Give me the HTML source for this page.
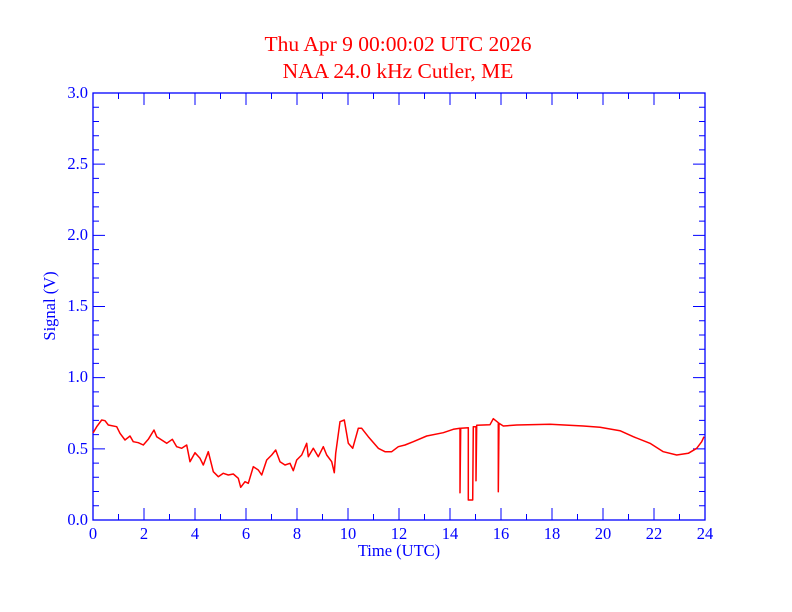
<!DOCTYPE html>
<html><head><meta charset="utf-8"><style>body{margin:0;background:#fff}svg{display:block}</style></head><body>
<svg width="792" height="612" xmlns="http://www.w3.org/2000/svg" font-family="Liberation Serif, serif">
<rect width="792" height="612" fill="#fff"/>
<text x="398" y="51" fill="#f00" font-size="21.5" text-anchor="middle">Thu Apr 9 00:00:02 UTC 2026</text>
<text x="398" y="78" fill="#f00" font-size="21.5" text-anchor="middle">NAA 24.0 kHz Cutler, ME</text>
<rect x="93" y="93" width="612" height="427" stroke="#00f" stroke-width="1.3" fill="none"/>
<path stroke="#00f" stroke-width="1" fill="none" d="
M93 520v-12M118.5 520v-6M144 520v-12M169.5 520v-6M195 520v-12M220.5 520v-6M246 520v-12M271.5 520v-6M297 520v-12M322.5 520v-6M348 520v-12M373.5 520v-6M399 520v-12M424.5 520v-6M450 520v-12M475.5 520v-6M501 520v-12M526.5 520v-6M552 520v-12M577.5 520v-6M603 520v-12M628.5 520v-6M654 520v-12M679.5 520v-6M705 520v-12
M93 93v12M118.5 93v6M144 93v12M169.5 93v6M195 93v12M220.5 93v6M246 93v12M271.5 93v6M297 93v12M322.5 93v6M348 93v12M373.5 93v6M399 93v12M424.5 93v6M450 93v12M475.5 93v6M501 93v12M526.5 93v6M552 93v12M577.5 93v6M603 93v12M628.5 93v6M654 93v12M679.5 93v6M705 93v12
M93 505.77h6M93 491.53h6M93 477.3h6M93 463.07h6M93 448.83h12M93 434.6h6M93 420.37h6M93 406.13h6M93 391.9h6M93 377.67h12M93 363.43h6M93 349.2h6M93 334.97h6M93 320.73h6M93 306.5h12M93 292.27h6M93 278.03h6M93 263.8h6M93 249.57h6M93 235.33h12M93 221.1h6M93 206.87h6M93 192.63h6M93 178.4h6M93 164.17h12M93 149.93h6M93 135.7h6M93 121.47h6M93 107.23h6
M705 505.77h-6M705 491.53h-6M705 477.3h-6M705 463.07h-6M705 448.83h-12M705 434.6h-6M705 420.37h-6M705 406.13h-6M705 391.9h-6M705 377.67h-12M705 363.43h-6M705 349.2h-6M705 334.97h-6M705 320.73h-6M705 306.5h-12M705 292.27h-6M705 278.03h-6M705 263.8h-6M705 249.57h-6M705 235.33h-12M705 221.1h-6M705 206.87h-6M705 192.63h-6M705 178.4h-6M705 164.17h-12M705 149.93h-6M705 135.7h-6M705 121.47h-6M705 107.23h-6"/>
<g fill="#00f" font-size="16.5">
<g text-anchor="middle">
<text x="93" y="539">0</text><text x="144" y="539">2</text><text x="195" y="539">4</text><text x="246" y="539">6</text><text x="297" y="539">8</text><text x="348" y="539">10</text><text x="399" y="539">12</text><text x="450" y="539">14</text><text x="501" y="539">16</text><text x="552" y="539">18</text><text x="603" y="539">20</text><text x="654" y="539">22</text><text x="705" y="539">24</text>
<text x="399" y="556">Time (UTC)</text>
</g>
<g text-anchor="end">
<text x="88" y="525">0.0</text><text x="88" y="454">0.5</text><text x="88" y="382">1.0</text><text x="88" y="311">1.5</text><text x="88" y="240">2.0</text><text x="88" y="169">2.5</text><text x="88" y="98">3.0</text>
</g>
<text transform="translate(55,306) rotate(-90)" text-anchor="middle">Signal (V)</text>
</g>
<polyline fill="none" stroke="#f00" stroke-width="1.5" stroke-linejoin="round" points="
93,433 96.7,426.7 101.7,420 105,420.7 108.3,425 116.7,426.7 120,433.3 125,440 130,436 133.3,441.7 138.3,442.7 143.3,445 148.3,439.3 154,430 156.7,436.7 161.7,440 166.7,443.3 172.3,439.3 176.7,446.7 181.7,448.3 186.7,445 190,461.7 195,452.7 200,458.3 203.3,465 208.3,451.7 213.3,471.7 218.3,476.7 223.3,473.3 228.3,475 233.3,474 238.3,478.3 240.7,487.3 245,481.7 248.3,483.3 253.3,466.7 258.3,470 261.7,475 266.7,460 271.7,455 275.7,450 280,461.7 285,465 290,463.3 293.3,470.7 296.7,460 301.7,455 306.7,443.3 308.3,456.7 313.3,448.3 318.3,456.7 323.3,446.7 326.7,455 331.7,461.7 334.3,472.7 335.7,453.3 340,421.7 344.3,420 348.3,443.3 352.7,448.3 358.3,428.3 361.7,428.3 368.3,436.7 378.3,448.3 385,451.7 391.7,451.7 398.3,446.7 405,445
413.3,441.7 426.7,436 443.3,432.7 453.3,429.3 460,428.3 460,492.7 460.7,428.3 468.3,427.7 468.3,500 472.7,500 473.3,426.7 476,426.7 476,480.7 476.7,425.3 490,424.7 493.3,418.7 498.3,422.7 498.3,491.7 499,423.3 503.3,426 516.7,425 550,424.3 583.3,426 600,427.3 620,430.7 633.3,436.7 650,443.3 663.3,451.7 676.7,455 688.3,453.3 696.7,448.3 701.7,441.7 704,436.7"/>
</svg>
</body></html>
